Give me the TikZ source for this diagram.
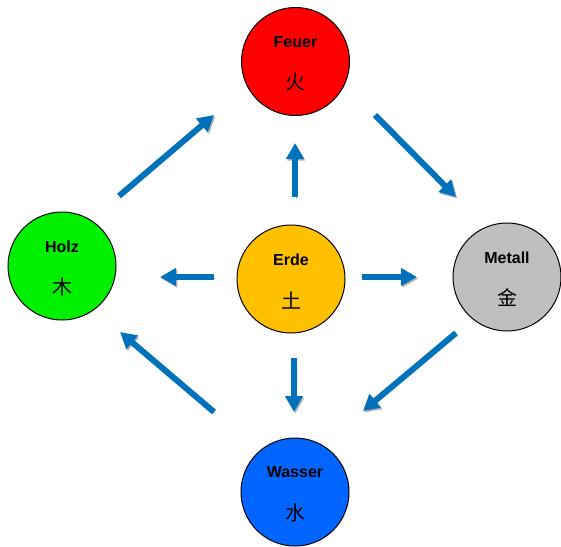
\documentclass[tikz,border=0pt]{standalone}
\usepackage{fontspec}
\setmainfont{Liberation Sans}
\newfontfamily\cjk{Noto Sans CJK SC}
\usetikzlibrary{arrows.meta}
\definecolor{arrowblue}{RGB}{0,114,188}
\definecolor{shadowgray}{RGB}{180,180,180}
\definecolor{firered}{RGB}{255,0,0}
\definecolor{woodgreen}{RGB}{0,240,0}
\definecolor{earthgold}{RGB}{255,192,0}
\definecolor{metalgray}{RGB}{191,191,191}
\definecolor{waterblue}{RGB}{0,102,255}
\tikzset{
  element/.style={circle,draw=black,line width=1pt,minimum size=108pt,inner sep=0pt},
  elname/.style={font=\bfseries\fontsize{16}{19}\selectfont,inner sep=0pt},
  elsign/.style={font=\cjk\fontsize{20}{23}\selectfont,inner sep=0pt},
  flow/.style={line width=6pt,draw=arrowblue,
    -{Triangle[length=16pt,width=17pt]},
    preaction={draw=shadowgray,transform canvas={shift={(1.3pt,-1.6pt)}}}}
}
\begin{document}
\begin{tikzpicture}[x=1pt,y=-1pt]
\useasboundingbox (0,0) rectangle (561,546);
\node[element,fill=firered]   (feuer)  at (295.5,61.5) {};
\node[element,fill=woodgreen] (holz)   at (62,266) {};
\node[element,fill=earthgold] (erde)   at (291,279) {};
\node[element,fill=metalgray] (metall) at (507,277) {};
\node[element,fill=waterblue] (wasser) at (295,492) {};
\foreach \n/\t/\k in {feuer/Feuer/火,holz/Holz/木,erde/Erde/土,metall/Metall/金,wasser/Wasser/水}{
  \node[elname] (\n-name) at ([yshift=19.5pt]\n.center) {\t};
  \node[elsign] (\n-sign) at ([yshift=-21pt]\n.center) {\k};
}
% arrow end points
\coordinate (hf1) at (119,196); \coordinate (hf2) at (214,115);
\coordinate (fm1) at (375,115); \coordinate (fm2) at (456,197);
\coordinate (mw1) at (456,333); \coordinate (mw2) at (363,411);
\coordinate (wh1) at (214,412); \coordinate (wh2) at (120,332);
\coordinate (ef1) at (295,197); \coordinate (ef2) at (295,143);
\coordinate (eh1) at (214,277); \coordinate (eh2) at (160,277);
\coordinate (em1) at (362,277); \coordinate (em2) at (417,277);
\coordinate (ew1) at (294,358); \coordinate (ew2) at (294,412);
\foreach \a in {hf,fm,mw,wh,ef,eh,em,ew}{
  \draw[flow] (\a1) -- (\a2);
}
\end{tikzpicture}
\end{document}
